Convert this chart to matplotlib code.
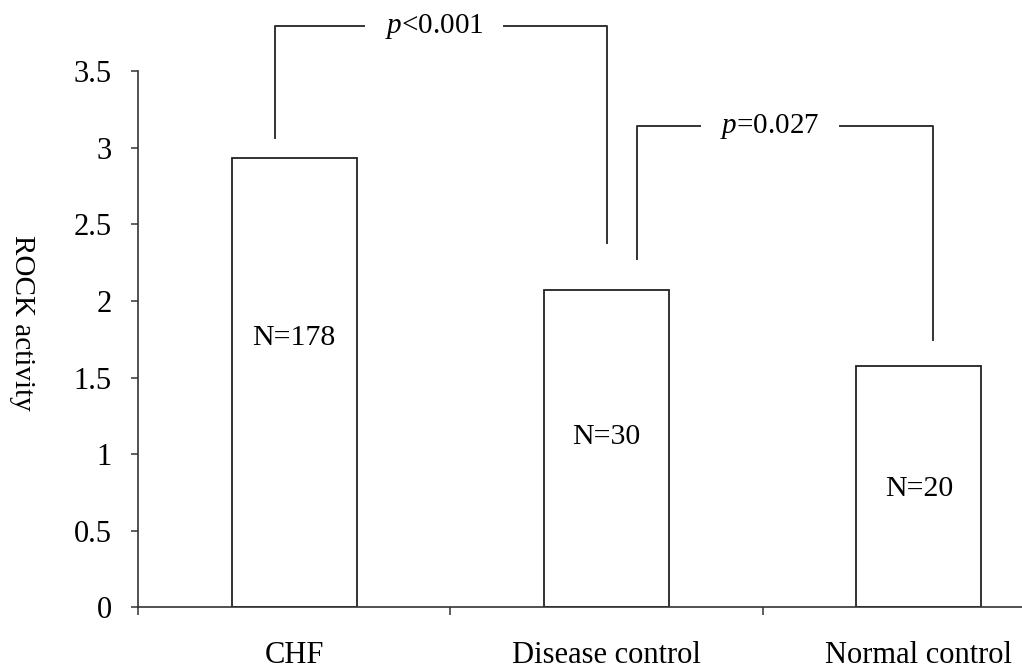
import matplotlib.pyplot as plt

groups = ['CHF', 'Disease control', 'Normal control']
activity = [2.93, 2.07, 1.575]
n_labels = ['N=178', 'N=30', 'N=20']
n_label_y = [1.76, 1.11, 0.77]

# brackets: left x, right x, left foot, right foot, top, text, gap
brackets = [
    (-0.06, 1.0, 3.06, 2.38, 3.79, r'$\it{p}$<0.001', (0.224, 0.673)),
    (1.096, 2.045, 2.27, 1.745, 3.14, r'$\it{p}$=0.027', (1.30, 1.747)),
]

plt.rcParams['font.family'] = 'Liberation Serif'
plt.rcParams['mathtext.fontset'] = 'custom'
plt.rcParams['mathtext.it'] = 'Liberation Serif:italic'

fig = plt.figure(figsize=(10.22, 6.69), dpi=100)
ax = fig.add_axes([0.135, 0.092, 0.865, 0.802])

x = list(range(len(groups)))
ax.bar(x, activity, width=0.4, color='white', edgecolor='#222222', linewidth=1.3)
for i in x:
    ax.text(i, n_label_y[i], n_labels[i], ha='center', va='center', fontsize=21.5)

lc = '#333333'
for xl, xr, yl, yr, top, txt, gap in brackets:
    ax.plot([xl, xl, gap[0]], [yl, top, top], color=lc, lw=1.4, clip_on=False)
    ax.plot([gap[1], xr, xr], [top, top, yr], color=lc, lw=1.4, clip_on=False)
    ax.text((gap[0] + gap[1]) / 2, top, txt, ha='center', va='center', fontsize=21)

ax.set_xlim(-0.5, 2.33)
ax.set_ylim(0, 3.5)
ax.set_yticks([0, 0.5, 1, 1.5, 2, 2.5, 3, 3.5])
ax.set_yticklabels(['0', '0.5', '1', '1.5', '2', '2.5', '3', '3.5'], fontsize=22)
ax.set_xticks([-0.5, 0.5, 1.5])
ax.set_xticklabels([])
ax.set_xticks(x, minor=True)
ax.set_xticklabels(groups, minor=True, fontsize=22)
ax.tick_params(axis='x', which='major', length=6, width=1.1, color=lc)
ax.tick_params(axis='x', which='minor', length=0, pad=24)
ax.tick_params(axis='y', length=5, width=1.1, color=lc, pad=14)
ax.set_ylabel('ROCK activity', fontsize=21, rotation=-90, va='center')
ax.yaxis.set_label_coords(-0.131, 0.53)

for s in ['top', 'right']:
    ax.spines[s].set_visible(False)
for s in ['left', 'bottom']:
    ax.spines[s].set_color(lc)
    ax.spines[s].set_linewidth(1.2)

fig.savefig('out.png', dpi=100)
